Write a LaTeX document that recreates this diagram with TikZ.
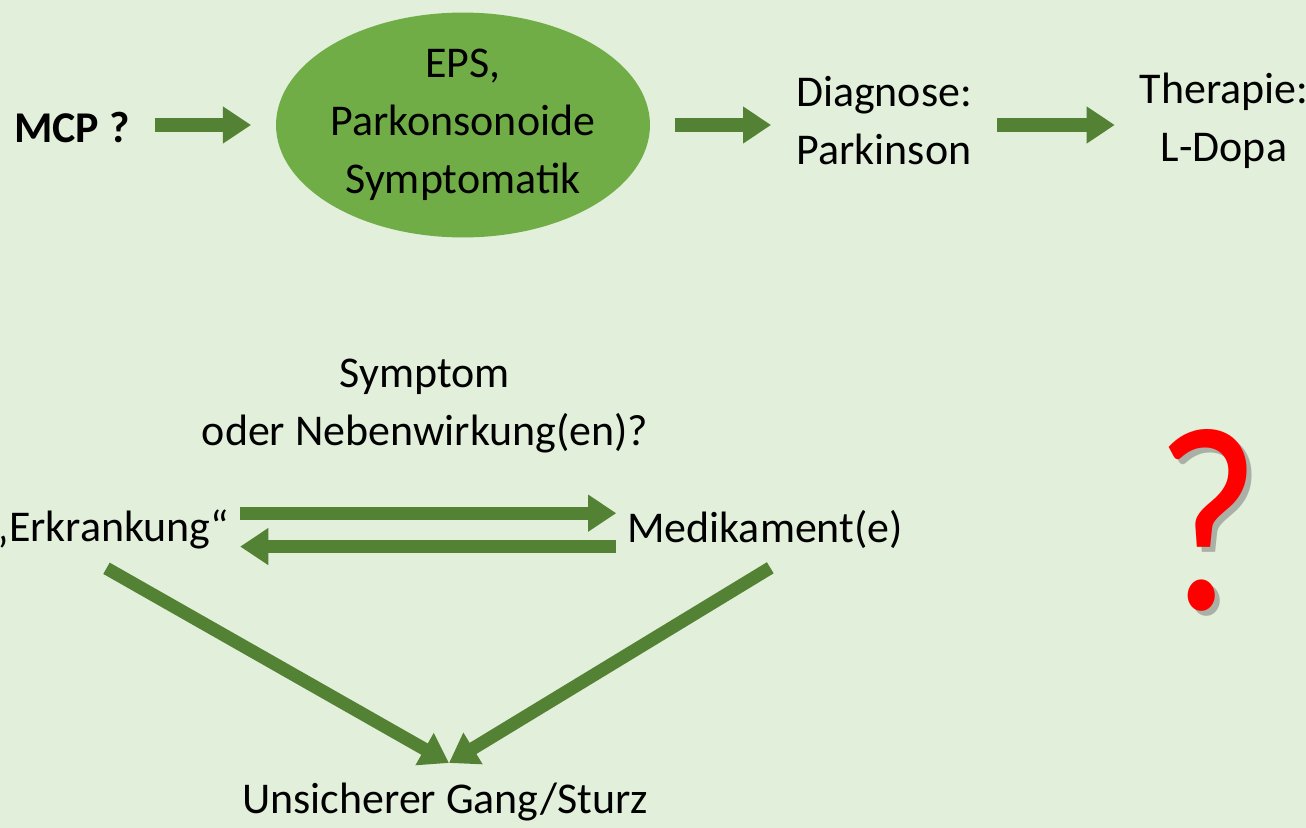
\documentclass[tikz,border=0pt]{standalone}
\usepackage{fontspec}
\setmainfont{Carlito}
\usetikzlibrary{arrows.meta,shapes,positioning}
\definecolor{bggreen}{RGB}{226,239,218}
\definecolor{arrowgreen}{RGB}{84,130,53}
\definecolor{ellgreen}{RGB}{112,173,71}
\tikzstyle{label}=[font=\fontsize{25}{33}\selectfont, align=center, inner sep=0pt]
\tikzstyle{blob}=[ellipse, fill=ellgreen, minimum width=204pt, minimum height=128pt, inner sep=0pt, font=\fontsize{25}{33}\selectfont, align=center]
\tikzstyle{bigarrow}=[draw=arrowgreen, line width=7.4pt, -{Triangle[length=16pt,width=20pt]}, shorten <=14pt, shorten >=14pt]
\tikzstyle{pairarrow}=[bigarrow, shorten <=6pt, shorten >=6pt]
\tikzstyle{slantarrow}=[bigarrow, shorten <=0pt, shorten >=0pt]

\begin{document}
\begin{tikzpicture}[x=0.02cm, y=-0.02cm]

    \fill[bggreen] (0,0) rectangle (1306,828);
    \useasboundingbox (0,0) rectangle (1306,828);

    % top row
    \node[label, font=\fontsize{25}{33}\selectfont\bfseries] (mcp) at (72,127) {MCP ?};
    \node[blob] (eps) at (463,125) {EPS,\\Parkonsonoide\\Symptomatik};

    \foreach \pos/ \name / \label in {{(884,121)/diag/{Diagnose:\\Parkinson}}, {(1224,121)/ther/{Therapie:\\L-Dopa}},
        {(425,406)/sympt/{Symptom\\oder Nebenwirkung(en)?}}, {(110,529)/erkr/{„Erkrankung“}},
        {(765,529)/medi/{Medikament(e)}}, {(445,802)/gang/{Unsicherer Gang/Sturz}}}
        \node[label] (\name) at \pos {\label};

    \coordinate (meet) at (449,763);

    \draw[bigarrow] (mcp.east |- eps.west) -- (eps.west);
    \draw[bigarrow] (eps.east) -- (diag.west |- eps.east);
    \draw[bigarrow] (diag.east |- eps.east) -- (ther.west |- eps.east);

    % Erkrankung <-> Medikament
    \draw[pairarrow] ([yshift=9pt]erkr.east) -- ([yshift=9pt]medi.west);
    \draw[pairarrow] ([yshift=-10pt]medi.west) -- ([yshift=-10pt]erkr.east);

    \draw[slantarrow] ([xshift=-2pt,yshift=-11pt]erkr.south) -- (meet);
    \draw[slantarrow] ([xshift=3pt,yshift=-11pt]medi.south) -- (meet);

    % big question mark
    \node[text=black!55, opacity=0.5, font=\fontsize{150}{150}\selectfont] (qshadow) at (1213,525) {\scalebox{0.86}[1]{?}};
    \node[text=red, font=\fontsize{150}{150}\selectfont] (qmark) at (1208,520) {\scalebox{0.86}[1]{?}};

\end{tikzpicture}
\end{document}
